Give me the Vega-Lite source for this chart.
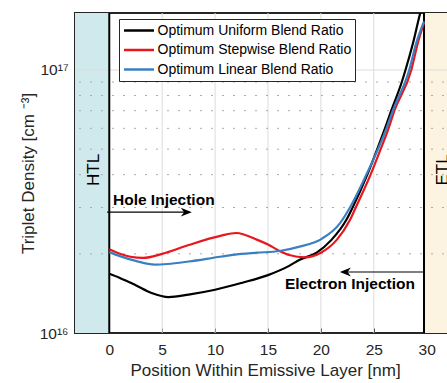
{
  "$schema": "https://vega.github.io/schema/vega-lite/v6.json",
  "width": 380,
  "height": 320,
  "autosize": {"type": "none"},
  "padding": {"left": 75, "top": 13, "right": 0, "bottom": 50},
  "background": "white",
  "config": {
    "font": "Liberation Sans",
    "view": {"stroke": "#262626", "strokeWidth": 2},
    "axis": {
      "labelFont": "Liberation Sans",
      "titleFont": "Liberation Sans",
      "labelColor": "#262626",
      "titleColor": "#262626",
      "labelFontSize": 15.5,
      "titleFontSize": 17,
      "titleFontWeight": "normal",
      "domain": false,
      "grid": false,
      "tickColor": "#262626"
    }
  },
  "resolve": {"axis": {"x": "independent", "y": "independent"}},
  "datasets": {
    "curves": [
      {"series": "Optimum Uniform Blend Ratio", "x": 0, "y": 1.68e16},
      {"series": "Optimum Uniform Blend Ratio", "x": 1, "y": 1.62e16},
      {"series": "Optimum Uniform Blend Ratio", "x": 2.5, "y": 1.52e16},
      {"series": "Optimum Uniform Blend Ratio", "x": 4, "y": 1.42e16},
      {"series": "Optimum Uniform Blend Ratio", "x": 5.6, "y": 1.37e16},
      {"series": "Optimum Uniform Blend Ratio", "x": 7.5, "y": 1.40e16},
      {"series": "Optimum Uniform Blend Ratio", "x": 10, "y": 1.46e16},
      {"series": "Optimum Uniform Blend Ratio", "x": 12.5, "y": 1.55e16},
      {"series": "Optimum Uniform Blend Ratio", "x": 15, "y": 1.66e16},
      {"series": "Optimum Uniform Blend Ratio", "x": 17, "y": 1.80e16},
      {"series": "Optimum Uniform Blend Ratio", "x": 18, "y": 1.90e16},
      {"series": "Optimum Uniform Blend Ratio", "x": 19.6, "y": 2.02e16},
      {"series": "Optimum Uniform Blend Ratio", "x": 21, "y": 2.26e16},
      {"series": "Optimum Uniform Blend Ratio", "x": 22.4, "y": 2.69e16},
      {"series": "Optimum Uniform Blend Ratio", "x": 23.0, "y": 3.0e16},
      {"series": "Optimum Uniform Blend Ratio", "x": 24.39, "y": 4.0e16},
      {"series": "Optimum Uniform Blend Ratio", "x": 25.33, "y": 5.0e16},
      {"series": "Optimum Uniform Blend Ratio", "x": 26.06, "y": 6.0e16},
      {"series": "Optimum Uniform Blend Ratio", "x": 26.65, "y": 7.0e16},
      {"series": "Optimum Uniform Blend Ratio", "x": 27.65, "y": 9.0e16},
      {"series": "Optimum Uniform Blend Ratio", "x": 28.0, "y": 1.0e17},
      {"series": "Optimum Uniform Blend Ratio", "x": 28.7, "y": 1.26e17},
      {"series": "Optimum Uniform Blend Ratio", "x": 29.4, "y": 1.65e17},
      {"series": "Optimum Uniform Blend Ratio", "x": 29.75, "y": 1.85e17},
      {"series": "Optimum Stepwise Blend Ratio", "x": 0, "y": 2.08e16},
      {"series": "Optimum Stepwise Blend Ratio", "x": 1, "y": 2.0e16},
      {"series": "Optimum Stepwise Blend Ratio", "x": 2, "y": 1.95e16},
      {"series": "Optimum Stepwise Blend Ratio", "x": 3.2, "y": 1.93e16},
      {"series": "Optimum Stepwise Blend Ratio", "x": 5, "y": 2.0e16},
      {"series": "Optimum Stepwise Blend Ratio", "x": 7.5, "y": 2.16e16},
      {"series": "Optimum Stepwise Blend Ratio", "x": 10.5, "y": 2.34e16},
      {"series": "Optimum Stepwise Blend Ratio", "x": 12, "y": 2.40e16},
      {"series": "Optimum Stepwise Blend Ratio", "x": 14, "y": 2.26e16},
      {"series": "Optimum Stepwise Blend Ratio", "x": 15, "y": 2.17e16},
      {"series": "Optimum Stepwise Blend Ratio", "x": 16.1, "y": 2.05e16},
      {"series": "Optimum Stepwise Blend Ratio", "x": 17, "y": 1.98e16},
      {"series": "Optimum Stepwise Blend Ratio", "x": 18.5, "y": 1.94e16},
      {"series": "Optimum Stepwise Blend Ratio", "x": 20, "y": 2.02e16},
      {"series": "Optimum Stepwise Blend Ratio", "x": 21.5, "y": 2.26e16},
      {"series": "Optimum Stepwise Blend Ratio", "x": 22.75, "y": 2.69e16},
      {"series": "Optimum Stepwise Blend Ratio", "x": 23.3, "y": 3.0e16},
      {"series": "Optimum Stepwise Blend Ratio", "x": 24.7, "y": 4.0e16},
      {"series": "Optimum Stepwise Blend Ratio", "x": 25.65, "y": 5.0e16},
      {"series": "Optimum Stepwise Blend Ratio", "x": 26.4, "y": 6.0e16},
      {"series": "Optimum Stepwise Blend Ratio", "x": 26.95, "y": 7.0e16},
      {"series": "Optimum Stepwise Blend Ratio", "x": 28.55, "y": 1.0e17},
      {"series": "Optimum Stepwise Blend Ratio", "x": 29.15, "y": 1.26e17},
      {"series": "Optimum Stepwise Blend Ratio", "x": 29.75, "y": 1.51e17},
      {"series": "Optimum Linear Blend Ratio", "x": 0, "y": 2.03e16},
      {"series": "Optimum Linear Blend Ratio", "x": 1, "y": 1.96e16},
      {"series": "Optimum Linear Blend Ratio", "x": 2.5, "y": 1.88e16},
      {"series": "Optimum Linear Blend Ratio", "x": 4.3, "y": 1.82e16},
      {"series": "Optimum Linear Blend Ratio", "x": 5.5, "y": 1.83e16},
      {"series": "Optimum Linear Blend Ratio", "x": 7.5, "y": 1.87e16},
      {"series": "Optimum Linear Blend Ratio", "x": 10.5, "y": 1.95e16},
      {"series": "Optimum Linear Blend Ratio", "x": 12.5, "y": 2.0e16},
      {"series": "Optimum Linear Blend Ratio", "x": 14, "y": 2.02e16},
      {"series": "Optimum Linear Blend Ratio", "x": 16.1, "y": 2.05e16},
      {"series": "Optimum Linear Blend Ratio", "x": 18, "y": 2.13e16},
      {"series": "Optimum Linear Blend Ratio", "x": 20, "y": 2.27e16},
      {"series": "Optimum Linear Blend Ratio", "x": 21.8, "y": 2.61e16},
      {"series": "Optimum Linear Blend Ratio", "x": 22.75, "y": 3.0e16},
      {"series": "Optimum Linear Blend Ratio", "x": 24.3, "y": 4.0e16},
      {"series": "Optimum Linear Blend Ratio", "x": 25.4, "y": 5.0e16},
      {"series": "Optimum Linear Blend Ratio", "x": 26.2, "y": 6.0e16},
      {"series": "Optimum Linear Blend Ratio", "x": 26.8, "y": 7.0e16},
      {"series": "Optimum Linear Blend Ratio", "x": 28.35, "y": 1.0e17},
      {"series": "Optimum Linear Blend Ratio", "x": 29.0, "y": 1.26e17},
      {"series": "Optimum Linear Blend Ratio", "x": 29.75, "y": 1.53e17}
    ],
    "htlRegion": [{"x1": -4, "x2": 0}],
    "etlRegion": [{"x1": 29.75, "x2": 34}],
    "vgrid": [{"x": 5}, {"x": 10}, {"x": 15}, {"x": 20}, {"x": 25}],
    "minorgrid": [{"y": 2e16}, {"y": 3e16}, {"y": 4e16}, {"y": 5e16}, {"y": 6e16}, {"y": 7e16}, {"y": 8e16}, {"y": 9e16}],
    "majorgrid": [{"y": 1e17}],
    "boundaries": [{"x": 0}, {"x": 29.75}],
    "notes": [
      {"label": "Hole Injection", "x": 0.35, "y": 3.21e16},
      {"label": "Electron Injection", "x": 16.6, "y": 1.535e16}
    ],
    "layerNames": [
      {"label": "HTL", "x": -1.45, "y": 4.17e16},
      {"label": "ETL", "x": 31.5, "y": 4.17e16}
    ],
    "arrows": [
      {"arrow": "hole", "x": -0.2, "x2": 7.6, "y": 2.88e16},
      {"arrow": "electron", "x": 29.75, "x2": 22.0, "y": 1.706e16}
    ],
    "holeHead": [{"x": 7.8, "y": 2.88e16}],
    "electronHead": [{"x": 21.8, "y": 1.706e16}]
  },
  "layer": [
    {
      "data": {"name": "htlRegion"},
      "mark": {"type": "rect", "clip": true, "color": "#d0e9ed"},
      "encoding": {
        "x": {"field": "x1", "type": "quantitative", "scale": {"domain": [-3.24, 32.68], "nice": false, "zero": false}, "axis": null},
        "x2": {"field": "x2"}
      }
    },
    {
      "data": {"name": "etlRegion"},
      "mark": {"type": "rect", "clip": true, "color": "#fcf4e1"},
      "encoding": {
        "x": {"field": "x1", "type": "quantitative", "axis": null},
        "x2": {"field": "x2"}
      }
    },
    {
      "data": {"name": "vgrid"},
      "mark": {"type": "rule", "color": "#dcdcdc", "strokeWidth": 1},
      "encoding": {"x": {"field": "x", "type": "quantitative", "axis": null}}
    },
    {
      "data": {"name": "minorgrid"},
      "mark": {"type": "rule", "color": "#ababab", "strokeWidth": 1, "strokeDash": [2, 9]},
      "encoding": {"y": {"field": "y", "type": "quantitative", "scale": {"type": "log", "domain": [1e16, 1.647e17], "nice": false}, "axis": null}}
    },
    {
      "data": {"name": "majorgrid"},
      "mark": {"type": "rule", "color": "#dcdcdc", "strokeWidth": 1},
      "encoding": {"y": {"field": "y", "type": "quantitative", "axis": null}}
    },
    {
      "data": {"name": "boundaries"},
      "mark": {"type": "rule", "color": "#000000", "strokeWidth": 2},
      "encoding": {"x": {"field": "x", "type": "quantitative", "axis": null}}
    },
    {
      "data": {"name": "curves"},
      "mark": {"type": "line", "interpolate": "monotone", "strokeWidth": 2.2, "clip": true},
      "encoding": {
        "x": {
          "field": "x", "type": "quantitative",
          "axis": {"values": [0, 5, 10, 15, 20, 25, 30], "title": "Position Within Emissive Layer [nm]", "tickSize": -5, "labelPadding": 14, "titlePadding": 5, "labelFlush": false}
        },
        "y": {
          "field": "y", "type": "quantitative",
          "axis": {"values": [1e16, 2e16, 3e16, 4e16, 5e16, 6e16, 7e16, 8e16, 9e16, 1e17], "labelExpr": "datum.value == 1e16 ? '10¹⁶' : (datum.value == 1e17 ? '10¹⁷' : '')", "title": "Triplet Density [cm ⁻³]", "tickSize": -4, "labelPadding": 11, "titlePadding": 2, "labelFlush": false}
        },
        "color": {
          "field": "series", "type": "nominal",
          "scale": {"domain": ["Optimum Uniform Blend Ratio", "Optimum Stepwise Blend Ratio", "Optimum Linear Blend Ratio"], "range": ["#000000", "#e8161d", "#3a80c1"]},
          "legend": {"orient": "none", "legendX": 44, "legendY": 6, "title": null, "symbolType": "stroke", "symbolSize": 900, "symbolStrokeWidth": 2.5, "clipHeight": 16, "labelFontSize": 14, "labelFont": "Liberation Sans", "labelColor": "#000000", "padding": 3.5, "rowPadding": 3.5, "labelOffset": 2, "strokeColor": "#262626", "fillColor": "#ffffff", "labelLimit": 300}
        }
      }
    },
    {
      "data": {"name": "arrows"},
      "mark": {"type": "rule", "color": "#000000", "strokeWidth": 1.2},
      "encoding": {
        "x": {"field": "x", "type": "quantitative", "axis": null},
        "x2": {"field": "x2"},
        "y": {"field": "y", "type": "quantitative", "axis": null}
      }
    },
    {
      "data": {"name": "holeHead"},
      "mark": {"type": "point", "shape": "M 0 0 L -1 -0.4 L -0.7 0 L -1 0.4 Z", "filled": true, "color": "#000000", "opacity": 1, "size": 484},
      "encoding": {
        "x": {"field": "x", "type": "quantitative", "axis": null},
        "y": {"field": "y", "type": "quantitative", "axis": null}
      }
    },
    {
      "data": {"name": "electronHead"},
      "mark": {"type": "point", "shape": "M 0 0 L 1 -0.4 L 0.7 0 L 1 0.4 Z", "filled": true, "color": "#000000", "opacity": 1, "size": 484},
      "encoding": {
        "x": {"field": "x", "type": "quantitative", "axis": null},
        "y": {"field": "y", "type": "quantitative", "axis": null}
      }
    },
    {
      "data": {"name": "notes"},
      "mark": {"type": "text", "font": "Liberation Sans", "fontSize": 15.5, "fontWeight": "bold", "align": "left", "baseline": "middle", "color": "#000000"},
      "encoding": {
        "x": {"field": "x", "type": "quantitative", "axis": null},
        "y": {"field": "y", "type": "quantitative", "axis": null},
        "text": {"field": "label"}
      }
    },
    {
      "data": {"name": "layerNames"},
      "mark": {"type": "text", "font": "Liberation Sans", "fontSize": 17, "angle": 270, "align": "center", "baseline": "middle", "color": "#000000"},
      "encoding": {
        "x": {"field": "x", "type": "quantitative", "axis": null},
        "y": {"field": "y", "type": "quantitative", "axis": null},
        "text": {"field": "label"}
      }
    }
  ]
}
